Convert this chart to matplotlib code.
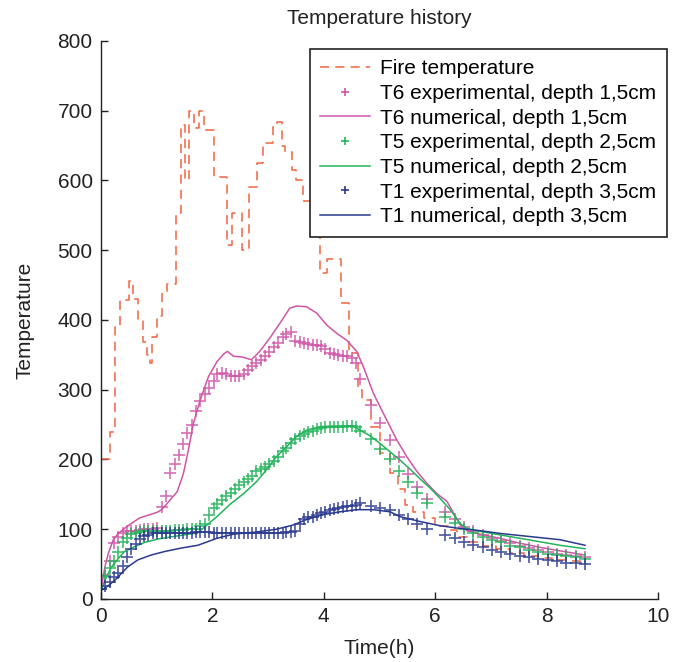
import matplotlib
matplotlib.use("Agg")
import matplotlib.pyplot as plt

plt.rcParams["font.family"] = ["Liberation Sans", "DejaVu Sans"]

# fire curve (stepped)
fire_t = [0.00, 0.16, 0.25, 0.34, 0.51, 0.58, 0.67, 0.75, 0.83, 0.88, 0.92, 1.00,
          1.09, 1.18, 1.35, 1.43, 1.51, 1.585, 1.675, 1.765, 1.85, 2.02, 2.26, 2.35,
          2.53, 2.66, 2.80, 2.90, 3.08, 3.16, 3.25, 3.31, 3.42, 3.50, 3.62, 3.78,
          3.93, 4.05, 4.30, 4.45, 4.62, 4.68, 4.85, 5.00, 5.19, 5.33, 5.46, 5.60,
          5.80, 6.00, 6.23, 6.40, 6.60, 6.85, 7.10, 7.35, 7.60, 7.85, 8.10, 8.35,
          8.60, 8.69]
fire_T = [200, 240, 391, 429, 456, 430, 398, 368, 350, 338, 375, 405,
          440, 452, 553, 680, 600, 700, 675, 700, 672, 605, 507, 553,
          500, 591, 625, 654, 677, 684, 650, 641, 615, 601, 570, 540,
          467, 488, 424, 352, 300, 285, 247, 209, 180, 158, 135, 125,
          116, 105, 99, 89, 82, 76, 71, 66, 62, 59, 56, 54,
          52, 51]

# measurement times (h)
t_exp = [0.00, 0.08, 0.16, 0.23, 0.31, 0.39, 0.47, 0.54, 0.62, 0.70, 0.78, 0.85,
         0.93, 1.01, 1.09, 1.16, 1.24, 1.32, 1.40, 1.47, 1.55, 1.63, 1.71, 1.78,
         1.86, 1.94, 2.02, 2.09, 2.17, 2.25, 2.33, 2.40, 2.48, 2.56, 2.64, 2.71,
         2.79, 2.87, 2.95, 3.02, 3.10, 3.18, 3.26, 3.33, 3.41, 3.49, 3.57, 3.64,
         3.72, 3.80, 3.88, 3.95, 4.03, 4.11, 4.19, 4.26, 4.34, 4.42, 4.50, 4.57,
         4.65, 4.84, 5.01, 5.18, 5.35, 5.51, 5.68, 5.85, 6.18, 6.35, 6.51, 6.68,
         6.85, 7.02, 7.19, 7.35, 7.52, 7.69, 7.85, 8.02, 8.18, 8.35, 8.52, 8.69]

t6_exp = [15, 34, 55, 80, 89, 95, 97, 97, 98, 99, 100, 101,
          101, 102, 132, 148, 180, 193, 206, 222, 238, 250, 270, 284,
          294, 303, 313, 322, 324, 322, 319, 319, 320, 323, 328, 334,
          339, 343, 349, 354, 361, 367, 375, 380, 383, 370, 369, 367,
          365, 364, 364, 363, 358, 353, 351, 350, 349, 348, 346, 338,
          315, 278, 252, 228, 203, 179, 161, 144, 124, 114, 103, 98,
          92, 87, 83, 80, 76, 73, 70, 68, 65, 63, 62, 60]

t5_exp = [15, 33, 45, 55, 67, 81, 88, 93, 95, 96, 97, 97,
          97, 98, 98, 98, 98, 99, 99, 99, 100, 100, 101, 104,
          108, 120, 130, 136, 142, 148, 152, 158, 163, 167, 172, 177,
          183, 186, 189, 193, 198, 204, 212, 217, 223, 229, 234, 237,
          240, 241, 243, 245, 246, 247, 247, 247, 247, 248, 248, 247,
          241, 229, 215, 200, 184, 167, 152, 138, 118, 109, 101, 95,
          89, 85, 81, 76, 74, 70, 68, 65, 63, 62, 60, 58]

t1_exp = [14, 18, 24, 31, 37, 47, 60, 71, 79, 86, 90, 92,
          94, 94, 94, 95, 95, 95, 95, 95, 95, 95, 96, 96,
          96, 96, 95, 95, 95, 95, 95, 95, 95, 95, 95, 95,
          95, 95, 95, 95, 95, 95, 95, 96, 96, 97, 107, 114,
          117, 118, 120, 123, 124, 127, 129, 130, 132, 133, 134, 135,
          137, 133, 130, 127, 120, 114, 108, 101, 92, 87, 82, 77,
          74, 70, 68, 65, 62, 60, 57, 56, 54, 52, 51, 50]

# numerical curves
t6_num_t = [0.00, 0.07, 0.13, 0.22, 0.31, 0.42, 0.54, 0.69, 0.84, 1.00, 1.09, 1.24,
            1.37, 1.48, 1.57, 1.66, 1.78, 1.93, 2.08, 2.20, 2.27, 2.38, 2.53, 2.70,
            2.85, 3.03, 3.21, 3.39, 3.51, 3.69, 3.87, 4.05, 4.23, 4.41, 4.59, 4.71,
            4.89, 5.07, 5.31, 5.49, 5.67, 5.85, 6.03, 6.21, 6.33, 6.45, 6.57, 6.80,
            7.16, 7.52, 7.88, 8.24, 8.69]
t6_num = [13, 46, 65, 85, 94, 101, 108, 116, 120, 124, 128, 142,
          154, 180, 214, 252, 285, 319, 340, 351, 355, 348, 347, 343,
          355, 374, 395, 417, 420, 419, 410, 393, 381, 371, 355, 333,
          295, 266, 228, 204, 183, 166, 151, 140, 123, 106, 98, 93,
          87, 80, 74, 69, 63]

t5_num_t = [0.00, 0.10, 0.19, 0.31, 0.42, 0.60, 0.78, 1.02, 1.26, 1.50, 1.74, 1.87,
            2.08, 2.32, 2.56, 2.79, 2.97, 3.15, 3.33, 3.51, 3.69, 3.93, 4.17, 4.35,
            4.53, 4.65, 4.83, 5.01, 5.19, 5.37, 5.55, 5.73, 5.91, 6.09, 6.27, 6.45,
            6.57, 6.80, 7.16, 7.52, 7.88, 8.24, 8.69]
t5_num = [13, 32, 46, 58, 68, 75, 81, 86, 89, 92, 95, 104,
          118, 136, 151, 168, 185, 204, 218, 233, 242, 247, 248, 248,
          248, 242, 234, 223, 211, 199, 186, 172, 159, 144, 128, 108,
          101, 97, 92, 87, 82, 77, 72]

t1_num_t = [0.00, 0.13, 0.25, 0.37, 0.48, 0.66, 0.90, 1.14, 1.44, 1.74, 2.08, 2.38,
            2.79, 3.15, 3.45, 3.69, 3.99, 4.29, 4.59, 4.89, 5.19, 5.37, 5.73, 6.09,
            6.45, 6.80, 7.16, 7.52, 7.88, 8.24, 8.69]
t1_num = [12, 19, 27, 37, 46, 56, 63, 68, 73, 77, 87, 93,
          96, 100, 106, 114, 121, 125, 128, 128, 125, 118, 111, 105,
          101, 98, 94, 91, 88, 85, 77]

c_fire = "#f26440"
c_t6 = "#cf55a6"
c_t5 = "#22b45a"
c_t1 = "#2b3990"

fig = plt.figure(figsize=(6.73, 6.62), dpi=100)
ax = fig.add_axes([0.1501, 0.0952, 0.8276, 0.8429])

ax.plot(fire_t, fire_T, color=c_fire, lw=1.1, linestyle=(0, (6, 4)),
        drawstyle="steps-post", label="Fire temperature")
ax.plot(t_exp, t6_exp, "+", color=c_t6, ms=8, mew=1.2, alpha=0.85,
        label="T6 experimental, depth 1,5cm")
ax.plot(t6_num_t, t6_num, "-", color=c_t6, lw=1.1, label="T6 numerical, depth 1,5cm")
ax.plot(t_exp, t5_exp, "+", color=c_t5, ms=8, mew=1.2, alpha=0.85,
        label="T5 experimental, depth 2,5cm")
ax.plot(t5_num_t, t5_num, "-", color=c_t5, lw=1.1, label="T5 numerical, depth 2,5cm")
ax.plot(t_exp, t1_exp, "+", color=c_t1, ms=8, mew=1.2, alpha=0.85,
        label="T1 experimental, depth 3,5cm")
ax.plot(t1_num_t, t1_num, "-", color=c_t1, lw=1.1, label="T1 numerical, depth 3,5cm")

ax.set_xlim(0, 10)
ax.set_ylim(0, 800)
ax.set_xticks([0, 2, 4, 6, 8, 10])
ax.set_yticks(range(0, 801, 100))
ax.spines["top"].set_visible(False)
ax.spines["right"].set_visible(False)
for s in ("left", "bottom"):
    ax.spines[s].set_linewidth(1.0)
    ax.spines[s].set_color("#222222")
ax.tick_params(direction="in", length=5, width=1.0, labelsize=15, colors="#222222", pad=6)

leg = ax.legend(loc="upper right", bbox_to_anchor=(667 / 673, 1 - 49 / 662),
                bbox_transform=fig.transFigure, borderaxespad=0, fontsize=15,
                frameon=True, fancybox=False, framealpha=1, edgecolor="#222222",
                handlelength=2.4, handletextpad=0.5, labelspacing=0.27,
                borderpad=0.5, markerscale=0.8)
leg.get_frame().set_linewidth(1.2)
for h in leg.legend_handles:
    h.set_alpha(1)

fig.text(379.5 / 673, 1 - 18 / 662, "Temperature history", ha="center", va="center",
         fontsize=15, color="#222222")
fig.text(379.5 / 673, 1 - 648 / 662, "Time(h)", ha="center", va="center",
         fontsize=15, color="#222222")
fig.text(25 / 673, 1 - 320 / 662, "Temperature", ha="center", va="center",
         rotation=90, fontsize=15, color="#222222")

fig.savefig("out.png", dpi=100)
